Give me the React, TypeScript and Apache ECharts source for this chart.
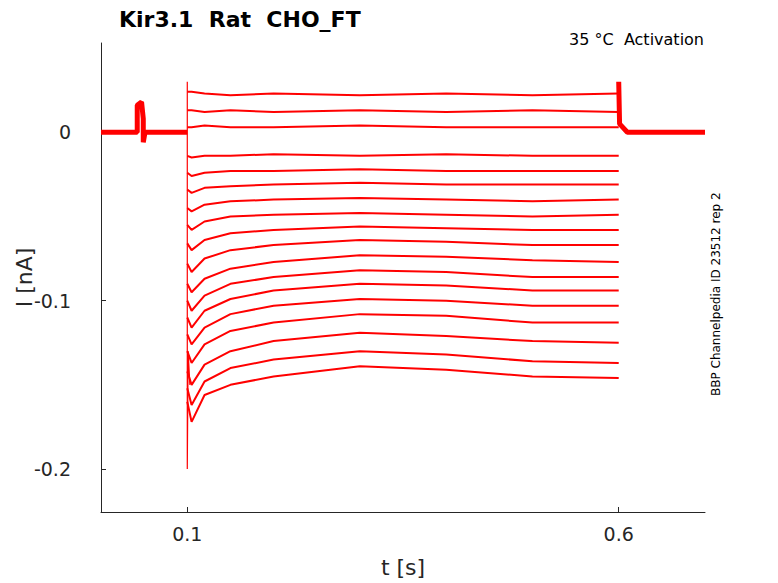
import { useEffect, useRef } from 'react';
import * as echarts from 'echarts';

// sample times during the voltage step (s)
const stepTimes = [0.1, 0.105, 0.12, 0.15, 0.2, 0.3, 0.4, 0.5, 0.6];

// current levels per sweep at stepTimes (nA)
const sweeps: number[][] = [
  [0.024, 0.024, 0.023, 0.022, 0.023, 0.022, 0.023, 0.022, 0.023],
  [0.013, 0.013, 0.012, 0.013, 0.012, 0.013, 0.012, 0.013, 0.012],
  [0.003, 0.003, 0.004, 0.003, 0.003, 0.004, 0.003, 0.003, 0.003],
  [-0.014, -0.015, -0.014, -0.014, -0.013, -0.014, -0.013, -0.014, -0.014],
  [-0.024, -0.026, -0.024, -0.023, -0.023, -0.022, -0.023, -0.023, -0.023],
  [-0.034, -0.036, -0.033, -0.032, -0.031, -0.030, -0.031, -0.031, -0.031],
  [-0.045, -0.047, -0.043, -0.041, -0.040, -0.039, -0.040, -0.041, -0.040],
  [-0.055, -0.058, -0.053, -0.050, -0.049, -0.048, -0.049, -0.050, -0.049],
  [-0.066, -0.070, -0.064, -0.060, -0.058, -0.056, -0.057, -0.058, -0.058],
  [-0.078, -0.083, -0.075, -0.070, -0.067, -0.064, -0.065, -0.067, -0.067],
  [-0.090, -0.095, -0.087, -0.081, -0.077, -0.073, -0.074, -0.076, -0.077],
  [-0.100, -0.106, -0.097, -0.090, -0.086, -0.082, -0.083, -0.086, -0.086],
  [-0.110, -0.116, -0.106, -0.099, -0.094, -0.090, -0.091, -0.094, -0.094],
  [-0.120, -0.126, -0.116, -0.108, -0.103, -0.099, -0.100, -0.103, -0.103],
  [-0.130, -0.137, -0.126, -0.118, -0.113, -0.108, -0.109, -0.113, -0.113],
  [-0.142, -0.150, -0.138, -0.130, -0.124, -0.119, -0.121, -0.124, -0.125],
  [-0.152, -0.162, -0.148, -0.140, -0.135, -0.130, -0.132, -0.136, -0.137],
  [-0.160, -0.172, -0.156, -0.150, -0.145, -0.139, -0.141, -0.145, -0.146],
];

// holding current outside the step, with the small blip near 0.045 s
const preStep: [number, number][] = [
  [0, 0], [0.042, 0], [0.042, 0.016], [0.047, 0.018], [0.049, 0.008], [0.049, -0.006], [0.051, 0], [0.1, 0],
];
const postStep: [number, number][] = [[0.6, 0.03], [0.601, 0.005], [0.61, 0], [0.7, 0]];
// capacitive transient at step onset
const onsetSpike: [number, number][] = [[0.1, 0.03], [0.1, -0.2], [0.101, -0.13], [0.103, -0.15]];

const xTicks = [0.1, 0.6];
const yTicks = [0, -0.1, -0.2];

export default function App() {
  const ref = useRef<HTMLDivElement>(null);

  useEffect(() => {
    if (!ref.current) return;
    const chart = echarts.init(ref.current, undefined, { renderer: 'svg' });

    const line = (data: any, width: number) => ({
      type: 'line',
      showSymbol: false,
      lineStyle: { color: '#ff0000', width },
      data,
    });
    const series: any[] = sweeps.map((vals) =>
      line(stepTimes.map((t, i) => [t, vals[i]]), 2),
    );
    // noisy holding baseline drawn thicker
    series.push(line(preStep, 5), line(postStep, 5), line(onsetSpike, 1.2));

    chart.setOption({
      animation: false,
      backgroundColor: '#ffffff',
      title: {
        text: 'Kir3.1  Rat  CHO_FT',
        left: 114,
        top: 3,
        textStyle: { fontFamily: 'DejaVu Sans', fontSize: 22, fontWeight: 'bold', color: '#000' },
      },
      graphic: [
        {
          type: 'text',
          right: 74,
          top: 31,
          style: { text: '35 °C  Activation', font: '16px "DejaVu Sans"', fill: '#000' },
        },
        {
          type: 'text',
          x: 710,
          y: 396,
          rotation: Math.PI / 2,
          style: { text: 'BBP Channelpedia ID 23512 rep 2', font: '12px "DejaVu Sans"', fill: '#000' },
        },
      ],
      grid: { left: 101, right: 73, top: 43, bottom: 71, outerBoundsMode: 'none', containLabel: false },
      xAxis: {
        type: 'value',
        min: 0,
        max: 0.7,
        name: 't [s]',
        nameLocation: 'middle',
        nameGap: 44,
        nameMoveOverlap: false,
        nameTextStyle: { fontFamily: 'DejaVu Sans', fontSize: 22, color: '#262626' },
        axisLine: { onZero: false, lineStyle: { color: '#262626' } },
        axisTick: { inside: true, customValues: xTicks, lineStyle: { color: '#262626' } },
        axisLabel: { customValues: xTicks, fontFamily: 'DejaVu Sans', fontSize: 19, color: '#262626', margin: 12 },
        splitLine: { show: false },
      },
      yAxis: {
        type: 'value',
        min: -0.2255,
        max: 0.053,
        name: 'I [nA]',
        nameLocation: 'middle',
        nameGap: 66,
        nameMoveOverlap: false,
        nameTextStyle: { fontFamily: 'DejaVu Sans', fontSize: 22, color: '#262626' },
        axisLine: { show: true, onZero: false, lineStyle: { color: '#262626' } },
        axisTick: { show: true, inside: true, customValues: yTicks, lineStyle: { color: '#262626' } },
        axisLabel: { customValues: yTicks, fontFamily: 'DejaVu Sans', fontSize: 19, color: '#262626', margin: 30 },
        splitLine: { show: false },
      },
      series,
    });

    return () => chart.dispose();
  }, []);

  return <div ref={ref} style={{ position: 'fixed', left: 0, top: 0, width: 778, height: 583 }} />;
}
